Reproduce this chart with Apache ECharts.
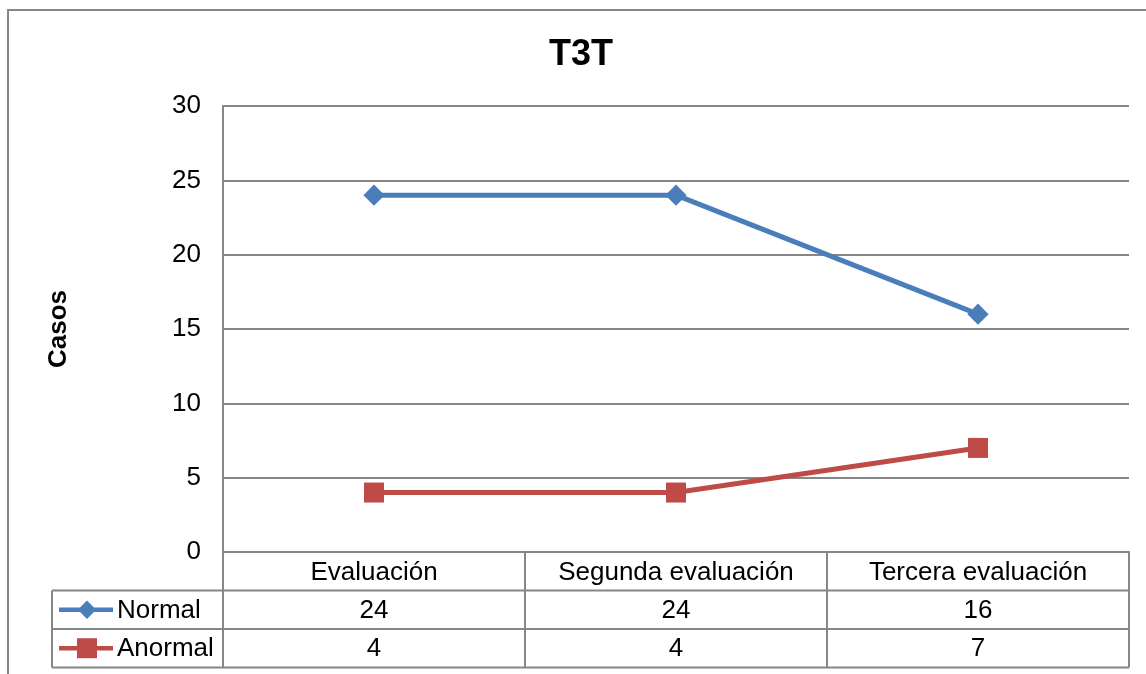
<!DOCTYPE html>
<html><head><meta charset="utf-8">
<script src="https://cdn.jsdelivr.net/npm/echarts@6/dist/echarts.min.js"></script>
<style>html,body{margin:0;padding:0;background:#fff}#c{width:1146px;height:674px}</style>
</head><body><div id="c"></div>
<script>
const categories = ['Evaluación', 'Segunda evaluación', 'Tercera evaluación'];
const seriesNames = ['Normal', 'Anormal'];
const normalValues = [24, 24, 16];
const anormalValues = [4, 4, 7];
const yTicks = [0, 5, 10, 15, 20, 25, 30];

const FONT = '"Liberation Sans", Arial, sans-serif';
const FS = 26;
const GRID_COLOR = '#868686';
const COLORS = ['#4A7EBB', '#BE4B48'];
const chart = echarts.init(document.getElementById('c'));

const gridLeft = 223, gridTop = 106, gridW = 906, gridH = 446;
chart.setOption({
  animation: false,
  title: { text: 'T3T', left: 576, top: 32, textAlign: 'center',
    textStyle: { fontFamily: FONT, fontWeight: 'bold', fontSize: 36, color: '#000' } },
  grid: { left: gridLeft, top: gridTop, width: gridW, height: gridH },
  xAxis: { type: 'category', data: categories, boundaryGap: true,
    axisLine: { show: true, lineStyle: { color: GRID_COLOR, width: 2 } },
    axisTick: { show: false },
    axisLabel: { show: true, interval: 0, hideOverlap: false, margin: 8, fontFamily: FONT, fontSize: FS, color: '#000' } },
  yAxis: { type: 'value', min: yTicks[0], max: yTicks[yTicks.length - 1], interval: 5,
    name: 'Casos', nameLocation: 'middle', nameGap: 151, nameRotate: 90,
    nameTextStyle: { fontFamily: FONT, fontWeight: 'bold', fontSize: 26, color: '#000' },
    axisLine: { show: true, lineStyle: { color: GRID_COLOR, width: 2 } },
    axisTick: { show: false },
    axisLabel: { margin: 22, fontFamily: FONT, fontSize: FS, color: '#000' },
    splitLine: { show: true, lineStyle: { color: GRID_COLOR, width: 2 } } },
  series: [
    { name: seriesNames[0], type: 'line', data: normalValues, symbol: 'rect', symbolSize: 15, symbolRotate: 45,
      lineStyle: { color: COLORS[0], width: 5 }, itemStyle: { color: COLORS[0] } },
    { name: seriesNames[1], type: 'line', data: anormalValues, symbol: 'rect', symbolSize: 20,
      lineStyle: { color: COLORS[1], width: 5 }, itemStyle: { color: COLORS[1] } }
  ]
});

const centers = categories.map((c, i) => chart.convertToPixel({ xAxisIndex: 0 }, i));
const band = centers.length > 1 ? centers[1] - centers[0] : gridW;
const bounds = [centers[0] - band / 2].concat(centers.map(c => c + band / 2));
const yBottom = chart.convertToPixel({ yAxisIndex: 0 }, 0);
const rowH = 38.5;
const rows = [yBottom, yBottom + rowH, yBottom + 2 * rowH, yBottom + 3 * rowH];
const tableLeft = 52;
const right = bounds[bounds.length - 1];
const ls = { stroke: GRID_COLOR, lineWidth: 2 };
const els = [];
els.push({ type: 'rect', shape: { x: 8, y: 10, width: 1160, height: 700 }, style: { fill: null, stroke: '#878787', lineWidth: 2 }, silent: true });
for (let r = 1; r < rows.length; r++) {
  els.push({ type: 'line', shape: { x1: tableLeft, y1: rows[r], x2: right, y2: rows[r] }, style: ls });
}
els.push({ type: 'line', shape: { x1: tableLeft, y1: rows[1], x2: tableLeft, y2: rows[3] }, style: ls });
bounds.forEach((b, i) => {
  els.push({ type: 'line', shape: { x1: b, y1: i === 0 ? gridTop : rows[0], x2: b, y2: rows[3] }, style: ls });
});
const allValues = [normalValues, anormalValues];
allValues.forEach((vals, r) => {
  const cy = (rows[r + 1] + rows[r + 2]) / 2 + 1;
  vals.forEach((v, i) => {
    els.push({ type: 'text', x: centers[i], y: cy, style: { text: String(v), fontFamily: FONT, fontSize: FS, fill: '#000', align: 'center', verticalAlign: 'middle' } });
  });
  els.push({ type: 'line', shape: { x1: 59, y1: cy - 1, x2: 113, y2: cy - 1 }, style: { stroke: COLORS[r], lineWidth: 4.5 } });
  if (r === 0) {
    els.push({ type: 'rect', shape: { x: -6.5, y: -6.5, width: 13, height: 13 }, x: 87, y: cy - 1, rotation: Math.PI / 4, style: { fill: COLORS[r] } });
  } else {
    els.push({ type: 'rect', shape: { x: 77, y: cy - 11, width: 20, height: 20 }, style: { fill: COLORS[r] } });
  }
  els.push({ type: 'text', x: 117, y: cy, style: { text: seriesNames[r], fontFamily: FONT, fontSize: FS, fill: '#000', align: 'left', verticalAlign: 'middle' } });
});
chart.setOption({ graphic: { elements: els } });
</script></body></html>
